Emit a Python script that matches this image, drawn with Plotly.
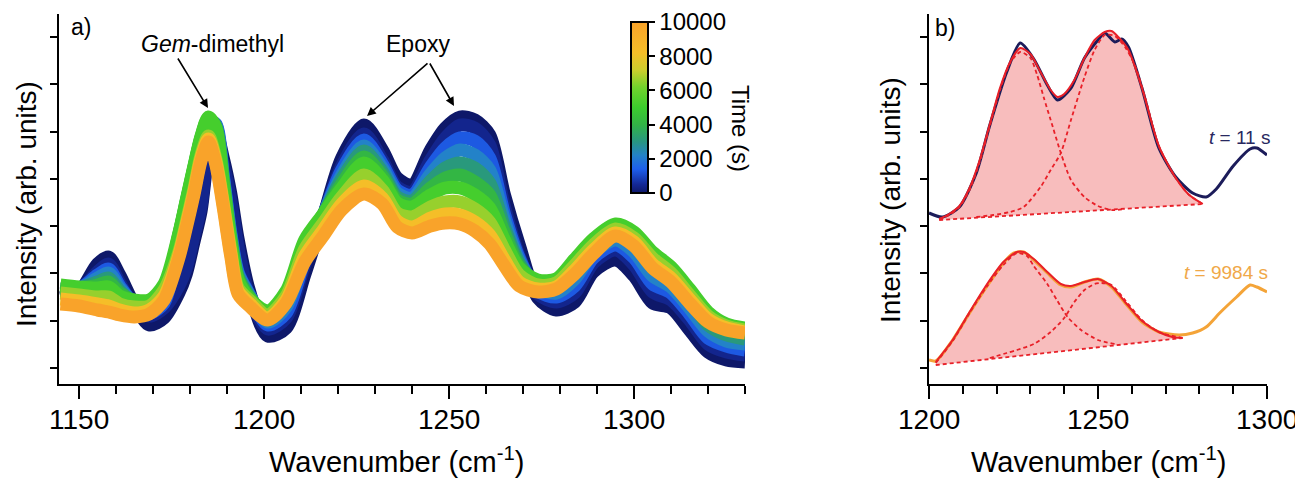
import plotly.graph_objects as go
from plotly.colors import sample_colorscale

# the page body adds an 8 px margin, so the figure is drawn 8 px smaller and all pixel positions shifted
OFF = 8
W, H = 1303 - OFF, 478 - OFF

# Panel a) spectra over time (intensity in arb. units)
wavenumber_a = [1145, 1150, 1155, 1158, 1161, 1165, 1169, 1173,
                1177, 1179, 1181, 1183, 1185, 1187, 1189, 1191, 1193, 1196,
                1201, 1206, 1211, 1216, 1221, 1227, 1232, 1236, 1240, 1245, 1249, 1253, 1257, 1261, 1265,
                1269, 1274, 1279, 1284, 1289, 1295, 1300, 1305, 1310, 1315, 1320, 1325, 1330]
time_s = [11, 400, 1300, 2200, 3100, 4100, 5200, 6600, 8200, 9984]

int_t11 = [70, 76, 104, 111, 93, 63, 43, 50,
           75, 94, 125, 157, 214, 236, 210, 175, 129, 78,
           32, 40, 93, 151, 210, 243, 218, 190, 183, 218, 240, 251, 248, 233, 173,
           123, 70, 58, 66, 96, 108, 92, 65, 60, 38, 16, 8, 6]
int_t400 = [74, 78, 96, 104, 85, 62, 52, 60,
            82, 100, 131, 162, 217, 232, 204, 168, 121, 72,
            39, 50, 103, 152, 202, 234, 208, 181, 176, 208, 230, 243, 240, 223, 161,
            112, 74, 66, 75, 105, 118, 103, 76, 68, 48, 24, 16, 13]
int_t1300 = [76, 79, 93, 99, 82, 63, 55, 65,
             131, 164, 197, 228, 247, 244, 193, 136, 96, 74,
             43, 55, 108, 152, 198, 228, 204, 178, 173, 201, 220, 230, 227, 210, 154,
             110, 77, 71, 82, 110, 123, 110, 84, 75, 54, 30, 22, 18]
int_t2200 = [78, 79, 90, 95, 80, 64, 58, 70,
             132, 165, 198, 229, 248, 243, 191, 134, 94, 73,
             46, 61, 113, 153, 193, 222, 200, 175, 170, 194, 210, 218, 213, 198, 148,
             107, 80, 75, 89, 115, 128, 116, 92, 81, 60, 37, 27, 24]
int_t3100 = [79, 80, 86, 90, 77, 66, 62, 74,
             133, 166, 199, 230, 249, 242, 189, 132, 92, 72,
             50, 66, 118, 153, 189, 217, 196, 171, 167, 187, 200, 205, 200, 185, 141,
             105, 82, 80, 95, 119, 134, 123, 100, 88, 67, 43, 33, 29]
int_t4100 = [81, 80, 83, 86, 75, 67, 65, 79,
             134, 167, 200, 231, 250, 241, 187, 130, 90, 71,
             53, 72, 123, 154, 184, 211, 192, 168, 164, 180, 190, 193, 186, 173, 135,
             102, 85, 84, 102, 124, 139, 129, 108, 94, 73, 50, 38, 35]
int_t5200 = [83, 81, 80, 81, 72, 68, 68, 84,
             135, 168, 201, 232, 251, 240, 185, 128, 88, 70,
             57, 77, 128, 154, 180, 205, 188, 165, 161, 173, 180, 180, 173, 160, 128,
             100, 88, 89, 109, 129, 144, 136, 116, 101, 79, 56, 44, 40]
int_t6600 = [75, 73, 71, 71, 64, 61, 62, 78,
             116, 146, 178, 213, 232, 209, 166, 118, 80, 68,
             53, 72, 119, 145, 171, 193, 178, 155, 151, 161, 166, 166, 159, 146, 118,
             93, 83, 85, 103, 123, 139, 130, 110, 95, 73, 52, 42, 38]
int_t8200 = [69, 67, 64, 62, 58, 55, 58, 72,
             113, 143, 175, 210, 229, 206, 163, 115, 77, 65,
             50, 68, 112, 138, 164, 182, 170, 147, 141, 150, 154, 153, 146, 133, 108,
             86, 79, 81, 98, 118, 135, 126, 104, 90, 69, 49, 40, 36]
int_t9984 = [64, 62, 58, 56, 53, 51, 54, 68,
             110, 140, 172, 207, 226, 203, 160, 112, 74, 62,
             48, 65, 106, 132, 158, 174, 164, 141, 135, 142, 145, 144, 137, 124, 102,
             82, 76, 79, 94, 114, 132, 122, 100, 86, 65, 46, 38, 35]
spectra_a = [int_t11, int_t400, int_t1300, int_t2200, int_t3100, int_t4100, int_t5200, int_t6600, int_t8200, int_t9984]

# Panel b) t = 11 s
wn_b_t11 = [1200, 1204, 1209, 1214, 1218, 1223, 1227, 1231, 1235, 1238, 1242, 1246, 1250, 1252,
            1255, 1257, 1259, 1263, 1268, 1273, 1278, 1282, 1285, 1290, 1295, 1297, 1300]
int_b_t11 = [155, 151, 161, 195, 243, 296, 325, 309, 283, 268, 280, 310, 328, 335,
             326, 329, 321, 280, 220, 191, 175, 171, 179, 202, 219, 220, 213]
fit_x_t11 = [1203, 1206, 1209, 1212, 1215, 1218, 1221, 1224, 1227, 1230, 1233, 1236, 1238, 1240,
             1243, 1246, 1249, 1252, 1254, 1256, 1259, 1263, 1268, 1273, 1277, 1281]
fit_t11 = [149, 154, 162, 180, 208, 244, 280, 306, 320, 314, 296, 278, 271, 274,
           288, 310, 328, 336, 337, 331, 318, 280, 222, 190, 173, 164]
comp1_x_t11 = [1203, 1206, 1209, 1212, 1215, 1218, 1221, 1224, 1227, 1230, 1232, 1234, 1236, 1239,
               1242, 1246, 1250, 1254, 1258]
comp1_t11 = [149, 153, 161, 178, 206, 242, 278, 305, 316, 310, 293, 270, 248, 215,
             188, 171, 162, 158, 159]
comp2_x_t11 = [1214, 1219, 1224, 1228, 1233, 1236, 1239, 1242, 1246, 1249, 1252, 1255, 1258, 1261,
               1264, 1268, 1273, 1277, 1281]
comp2_t11 = [151, 153, 156, 161, 181, 198, 215, 248, 291, 318, 333, 332, 321, 302,
             270, 222, 190, 173, 164]
base_x_t11 = [1203, 1281]
base_t11 = [148, 164]

# Panel b) t = 9984 s
wn_b_t9984 = [1200, 1202, 1207, 1212, 1217, 1222, 1225, 1228, 1231, 1235, 1239, 1242, 1246, 1250,
              1254, 1258, 1263, 1268, 1274, 1278, 1282, 1286, 1291, 1295, 1297, 1300]
int_b_t9984 = [8, 7, 28, 55, 81, 105, 115, 116, 108, 95, 83, 81, 86, 89,
               81, 65, 46, 36, 33, 35, 41, 55, 71, 83, 81, 76]
fit_x_t9984 = [1202, 1207, 1212, 1217, 1222, 1226, 1228, 1231, 1235, 1239, 1242, 1246, 1250, 1254,
               1258, 1263, 1268, 1272, 1275]
fit_t9984 = [6, 28, 56, 83, 106, 116, 116, 109, 96, 84, 82, 86, 89, 82,
             66, 47, 36, 31, 30]
comp1_x_t9984 = [1202, 1207, 1212, 1217, 1222, 1226, 1229, 1231, 1235, 1238, 1241, 1245, 1250, 1255]
comp1_t9984 = [5, 27, 55, 81, 103, 115, 112, 102, 84, 67, 51, 38, 28, 24]
comp2_x_t9984 = [1218, 1223, 1226, 1231, 1236, 1240, 1243, 1246, 1249, 1251, 1254, 1258, 1263, 1268, 1275]
comp2_t9984 = [10, 15, 18, 24, 36, 50, 66, 78, 84, 85, 83, 68, 48, 36, 30]
base_x_t9984 = [1202, 1275]
base_t9984 = [3, 30]

time_ticks = [0, 2000, 4000, 6000, 8000, 10000]
wn_ticks_a = [1150, 1200, 1250, 1300]
wn_ticks_b = [1200, 1250, 1300]

colorscale = [[0.0, "rgb(14,24,104)"], [0.05, "rgb(20,40,150)"], [0.14, "rgb(30,95,235)"],
              [0.22, "rgb(35,130,200)"], [0.30, "rgb(40,150,130)"], [0.40, "rgb(50,180,70)"],
              [0.50, "rgb(60,205,45)"], [0.62, "rgb(115,210,45)"], [0.72, "rgb(205,205,45)"],
              [0.82, "rgb(245,190,40)"], [1.0, "rgb(249,163,42)"]]

FONT = "Arial, Liberation Sans, sans-serif"
RED = "rgb(232,32,40)"
NAVY = "rgb(28,28,90)"
ORANGE = "rgb(244,164,56)"
PINK = "rgb(248,189,189)"


def fx(p):
    return (p - OFF) / W


def fy(p):
    return 1 - (p - OFF) / H


fig = go.Figure()

# Chart a
for t, spec in zip(time_s, spectra_a):
    col = sample_colorscale(colorscale, [t / 10000])[0]
    fig.add_trace(go.Scatter(x=wavenumber_a, y=spec, mode="lines", xaxis="x", yaxis="y",
                             line=dict(color=col, width=13, shape="spline", smoothing=0.8),
                             hoverinfo="skip", showlegend=False))

cbar = dict(x=fx(631), xanchor="left", y=fy(107.5), yanchor="middle",
            len=171, lenmode="pixels", thickness=17,
            outlinewidth=2, outlinecolor="black",
            ticks="outside", ticklen=6, tickwidth=2, tickcolor="black",
            tickvals=time_ticks, tickformat="d", xpad=0, ypad=0,
            tickfont=dict(family=FONT, size=24, color="black"))
fig.add_trace(go.Scatter(x=[None], y=[None], mode="markers", xaxis="x", yaxis="y", showlegend=False,
                         marker=dict(color=[0], cmin=0, cmax=10000, colorscale=colorscale,
                                     showscale=True, colorbar=cbar)))

# Chart b
for bx, by, fxs, fys, c1x, c1, c2x, c2, dx, dy, col in [
        (base_x_t11, base_t11, fit_x_t11, fit_t11, comp1_x_t11, comp1_t11, comp2_x_t11, comp2_t11,
         wn_b_t11, int_b_t11, NAVY),
        (base_x_t9984, base_t9984, fit_x_t9984, fit_t9984, comp1_x_t9984, comp1_t9984, comp2_x_t9984,
         comp2_t9984, wn_b_t9984, int_b_t9984, ORANGE)]:
    fig.add_trace(go.Scatter(x=bx, y=by, mode="lines", xaxis="x2", yaxis="y2", line=dict(width=0),
                             hoverinfo="skip", showlegend=False))
    fig.add_trace(go.Scatter(x=fxs, y=fys, mode="lines", xaxis="x2", yaxis="y2", fill="tonexty",
                             fillcolor=PINK, line=dict(width=0, shape="spline"),
                             hoverinfo="skip", showlegend=False))
    fig.add_trace(go.Scatter(x=dx, y=dy, mode="lines", xaxis="x2", yaxis="y2",
                             line=dict(color=col, width=3, shape="spline", smoothing=0.7), showlegend=False))
    fig.add_trace(go.Scatter(x=fxs, y=fys, mode="lines", xaxis="x2", yaxis="y2",
                             line=dict(color=RED, width=2, shape="spline", smoothing=0.7), showlegend=False))
    for cx, cy in [(c1x, c1), (c2x, c2), (bx, by)]:
        fig.add_trace(go.Scatter(x=cx, y=cy, mode="lines", xaxis="x2", yaxis="y2",
                                 line=dict(color=RED, width=1.8, dash="4px,3px", shape="spline", smoothing=0.7),
                                 showlegend=False))

axis_common = dict(showline=True, linecolor="black", linewidth=2, showgrid=False, zeroline=False,
                   ticks="outside", tickcolor="black", tickwidth=2, automargin=False)

fig.update_layout(
    width=W, height=H, margin=dict(l=0, r=0, t=0, b=0, autoexpand=False),
    paper_bgcolor="white", plot_bgcolor="white", showlegend=False,
    font=dict(family=FONT, color="black"),
    xaxis=dict(domain=[fx(59), fx(745)], range=[1144.6, 1330], anchor="y", tickvals=wn_ticks_a,
               ticklen=13, showticklabels=False,
               minor=dict(ticks="outside", ticklen=8, tickwidth=2, tickcolor="black", dtick=10, tick0=1150),
               **axis_common),
    yaxis=dict(domain=[fy(384), fy(14)], range=[-16, 354], anchor="x", tick0=0, dtick=47.3,
               ticklen=7, showticklabels=False, **axis_common),
    xaxis2=dict(domain=[fx(929), fx(1267)], range=[1200, 1300], anchor="y2", tickvals=wn_ticks_b,
                ticklen=13, showticklabels=False,
                minor=dict(ticks="outside", ticklen=8, tickwidth=2, tickcolor="black", dtick=10, tick0=1200),
                **axis_common),
    yaxis2=dict(domain=[fy(384), fy(14)], range=[-16, 354], anchor="x2", tick0=0, dtick=47.3,
                ticklen=7, showticklabels=False, **axis_common),
)

# tick labels of the wavenumber axes
for xref, ticks in [("x", wn_ticks_a), ("x2", wn_ticks_b)]:
    for v in ticks:
        fig.add_annotation(text=str(v), x=v, xref=xref, y=fy(419), yref="paper", showarrow=False,
                           xanchor="center", yanchor="middle",
                           font=dict(family=FONT, size=28, color="black"))

notes = [
    ("a)", 81, 27, 23, 0, "black"),
    ("b)", 945, 28, 23, 0, "black"),
    ("<i>Gem</i>-dimethyl", 212, 44, 23, 0, "black"),
    ("Epoxy", 418, 44, 23, 0, "black"),
    ("Wavenumber (cm<sup>-1</sup>)", 396, 460, 29, 0, "black"),
    ("Wavenumber (cm<sup>-1</sup>)", 1098, 460, 29, 0, "black"),
    ("Intensity (arb. units)", 27, 204, 28, -90, "black"),
    ("Intensity (arb. units)", 891, 200, 28, -90, "black"),
    ("Time (s)", 740, 128, 24, 90, "black"),
    ("<i>t</i> = 11 s", 1239, 137, 19, 0, "rgb(40,40,96)"),
    ("<i>t</i> = 9984 s", 1226, 272, 19, 0, "rgb(240,168,72)"),
]
for text, x, y, size, angle, col in notes:
    fig.add_annotation(text=text, x=fx(x), y=fy(y), xref="paper", yref="paper", showarrow=False,
                       xanchor="center", yanchor="middle", textangle=angle,
                       font=dict(family=FONT, size=size, color=col))

# arrows: head position and tail offset in pixels
arrows = [(208, 108, -31, -51), (367, 116, 62, -54), (454, 106, -25, -44)]
for x, y, ax, ay in arrows:
    fig.add_annotation(text="", x=fx(x), y=fy(y), xref="paper", yref="paper", showarrow=True,
                       ax=ax, ay=ay, arrowhead=2, arrowsize=1.1, arrowwidth=1.6, arrowcolor="black",
                       standoff=0, startstandoff=0)

fig.write_html("out.html")
